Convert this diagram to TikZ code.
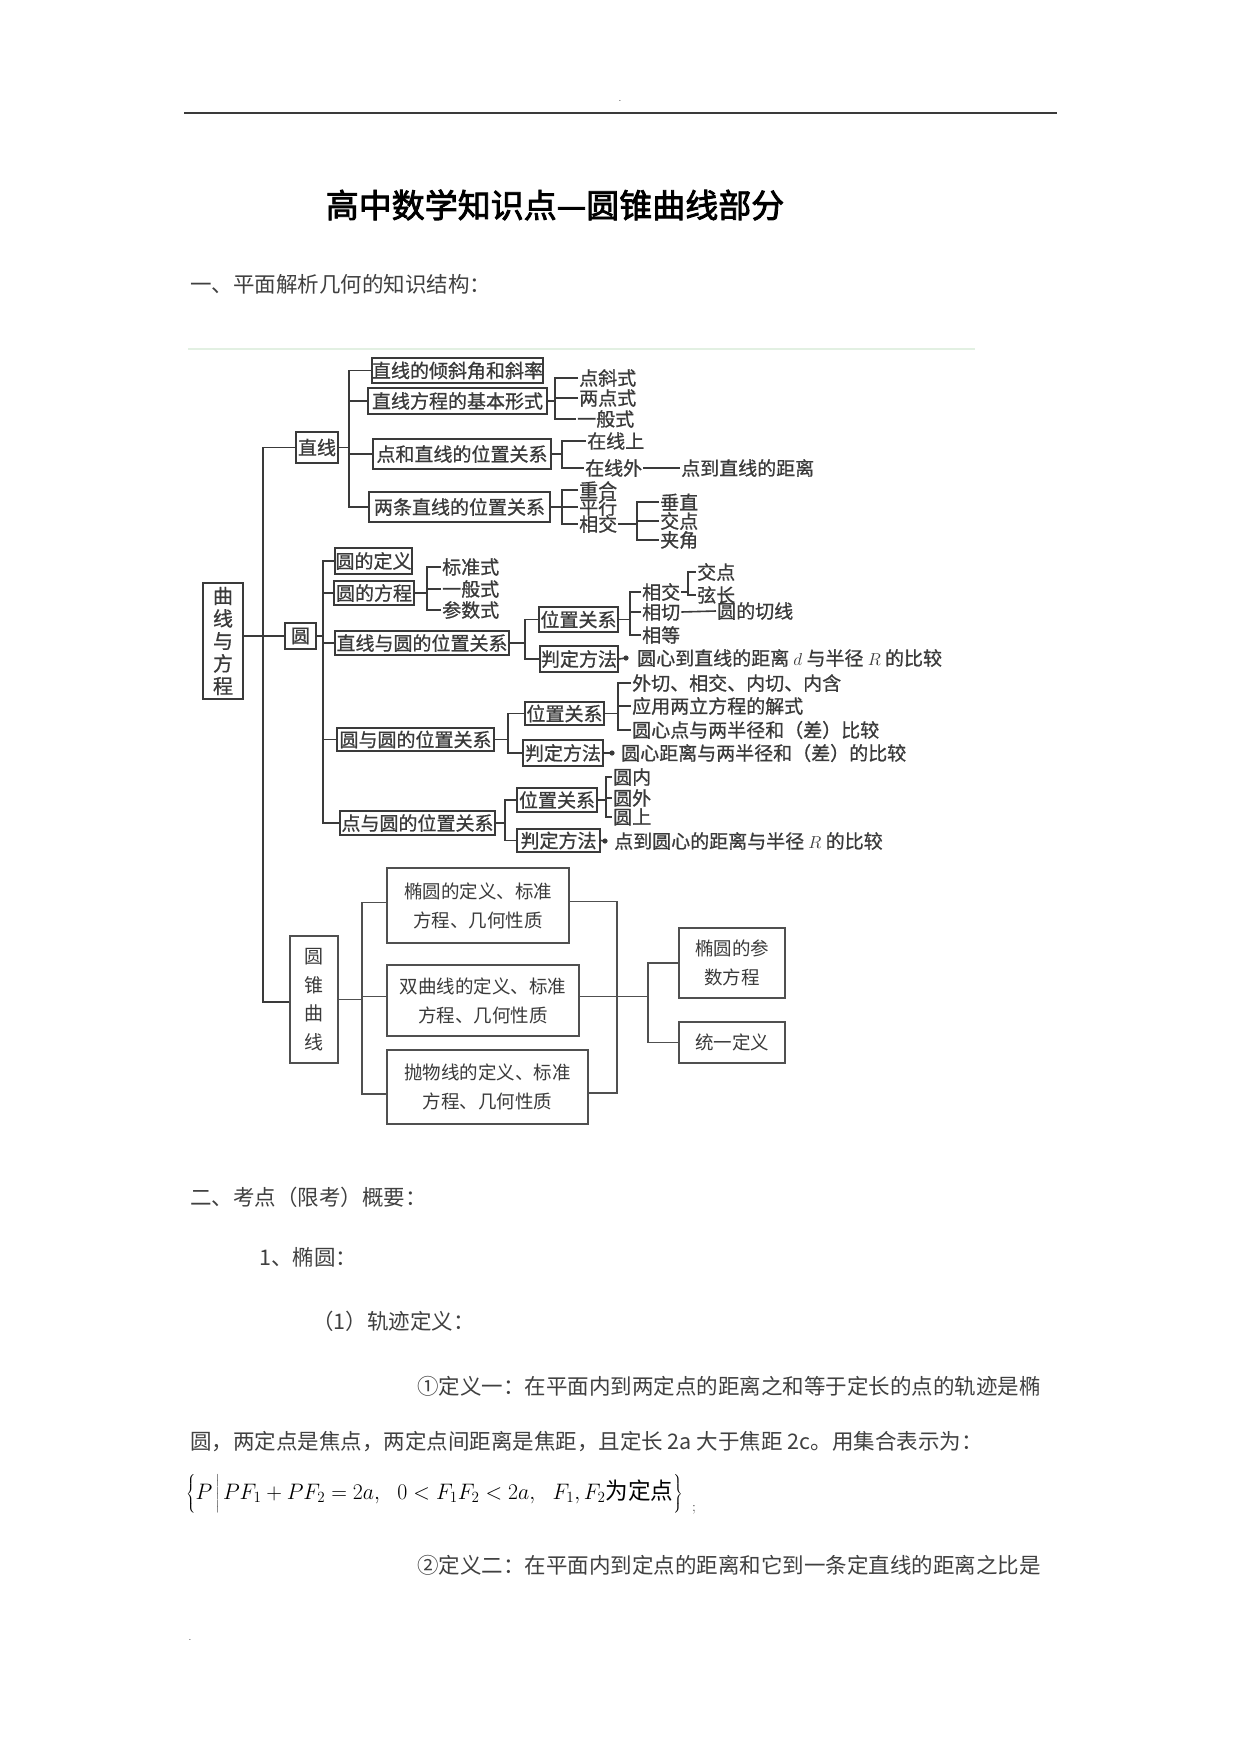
\documentclass[tikz,border=0pt]{standalone}
\usepackage{fontspec}
\newfontfamily\cjk{Noto Sans CJK SC}
\newfontfamily\cjkd[FakeBold=0.8]{Noto Sans CJK SC}
\newfontfamily\cjkb[FakeBold=2.5]{Noto Sans CJK SC}
\usetikzlibrary{calc}
\definecolor{lncol}{HTML}{3A3A3A}
\definecolor{boxcol}{HTML}{505050}
\definecolor{bodytxt}{HTML}{404040}
\definecolor{faintgreen}{HTML}{E2F0E2}
\begin{document}
\begin{tikzpicture}[x=1pt,y=-1pt,
  conn/.style={draw=lncol, line width=1.6},
  sbox/.style={draw=lncol, line width=2, inner sep=0, font=\cjkd\fontsize{19}{19}\selectfont, text=lncol},
  vbox/.style={draw=lncol, line width=1.8, inner sep=0, align=center, text=lncol},
  ftxt/.style={anchor=west, inner xsep=1, inner ysep=0, font=\cjkd\fontsize{19}{19}\selectfont, text=lncol},
  bbox/.style={draw=boxcol, line width=1.6, inner sep=0, align=center, text=lncol, font=\cjk\fontsize{18.5}{29}\selectfont},
  body/.style={anchor=west, inner sep=0, font=\cjk\fontsize{21.5}{22}\selectfont, text=bodytxt},
  dotmark/.style={fill=lncol}
]
\useasboundingbox (0,0) rectangle (1240,1753);
\fill[white] (0,0) rectangle (1240,1753);

% header
\node[font=\fontsize{10}{10}\selectfont, text=lncol] (hdot) at (620,101) {.};
\coordinate (hl) at (184,113);
\coordinate (hr) at (1057,113);
\draw[line width=2, draw=lncol] (hl) -- (hr);

% title
\node[font=\cjkb\fontsize{33}{33}\selectfont, text=black] (title) at (555,205) {高中数学知识点—圆锥曲线部分};
\node[body] (sec1) at (190,284) {一、平面解析几何的知识结构：};

% faint line on top of the diagram
\coordinate (gl) at (188,349);
\coordinate (gr) at (975,349);
\draw[faintgreen, line width=1.2] (gl) -- (gr);

% ---------------- boxes ----------------
\node[sbox, minimum width=171, minimum height=25] (b_qxj) at (457.5,370.5) {直线的倾斜角和斜率};
\node[sbox, minimum width=179, minimum height=26] (b_fc) at (457.5,401) {直线方程的基本形式};
\node[sbox, minimum width=42, minimum height=31] (b_zx) at (317,447.5) {直线};
\node[sbox, minimum width=178, minimum height=30] (b_dzx) at (462,454) {点和直线的位置关系};
\node[sbox, minimum width=181, minimum height=30] (b_lzx) at (459.5,507) {两条直线的位置关系};

\node[vbox, minimum width=40, minimum height=116, font=\cjkd\fontsize{20}{22.5}\selectfont] (b_main) at (223,641) {曲\\线\\与\\方\\程};
\node[sbox, minimum width=31, minimum height=26] (b_yuan) at (300.5,636) {圆};
\node[sbox, minimum width=77, minimum height=26] (b_ydy) at (373.5,561) {圆的定义};
\node[sbox, minimum width=80, minimum height=24] (b_yfc) at (374,593) {圆的方程};
\node[sbox, minimum width=174, minimum height=24] (b_zxy) at (422,643) {直线与圆的位置关系};
\node[sbox, minimum width=79, minimum height=25] (b_wz1) at (578.5,619.5) {位置关系};
\node[sbox, minimum width=78, minimum height=26] (b_pd1) at (579,659) {判定方法};
\node[sbox, minimum width=157, minimum height=23] (b_yy) at (415.5,739.5) {圆与圆的位置关系};
\node[sbox, minimum width=79, minimum height=23] (b_wz2) at (564.5,713.5) {位置关系};
\node[sbox, minimum width=80, minimum height=26] (b_pd2) at (563,753) {判定方法};
\node[sbox, minimum width=155, minimum height=24] (b_dy) at (417.5,823) {点与圆的位置关系};
\node[sbox, minimum width=80, minimum height=24] (b_wz3) at (557,800) {位置关系};
\node[sbox, minimum width=83, minimum height=23] (b_pd3) at (558.5,840.5) {判定方法};

\node[vbox, line width=1.6, draw=boxcol, minimum width=48, minimum height=127, font=\cjk\fontsize{19}{28.5}\selectfont] (b_yzqx) at (314,999.5) {圆\\锥\\曲\\线};
\node[bbox, minimum width=182, minimum height=75] (b_ty) at (478,905.5) {椭圆的定义、标准\\方程、几何性质};
\node[bbox, minimum width=192, minimum height=71] (b_sqx) at (483,1000.5) {双曲线的定义、标准\\方程、几何性质};
\node[bbox, minimum width=201, minimum height=74] (b_pwx) at (487.5,1087) {抛物线的定义、标准\\方程、几何性质};
\node[bbox, minimum width=106, minimum height=70] (b_tcs) at (732,963) {椭圆的参\\数方程};
\node[bbox, minimum width=106, minimum height=41] (b_tyd) at (732,1042.5) {统一定义};

% ---------------- free texts ----------------
\node[ftxt] (t_dxs) at (578,378) {点斜式};
\node[ftxt] (t_ldx) at (578,398) {两点式};
\node[ftxt] (t_ybs) at (576,419) {一般式};
\node[ftxt] (t_zxs) at (586,441) {在线上};
\node[ftxt] (t_zxw) at (584,468) {在线外};
\node[ftxt] (t_ddz) at (680,468) {点到直线的距离};
\node[ftxt] (t_ch) at (578,490) {重合};
\node[ftxt] (t_px) at (578,507) {平行};
\node[ftxt] (t_xj) at (578,524) {相交};
\node[ftxt] (t_cz) at (659,502) {垂直};
\node[ftxt] (t_jd) at (659,521) {交点};
\node[ftxt] (t_jj) at (659,540) {夹角};

\node[ftxt] (t_bzs) at (441,567) {标准式};
\node[ftxt] (t_yb2) at (441,589) {一般式};
\node[ftxt] (t_css) at (441,610) {参数式};
\node[ftxt] (t_xj2) at (641,592) {相交};
\node[ftxt] (t_xq) at (641,612) {相切};
\node[ftxt] (t_xd) at (641,635) {相等};
\node[ftxt] (t_jd2) at (696,572) {交点};
\node[ftxt] (t_xc) at (696,595) {弦长};
\node[ftxt] (t_yqx) at (716,611) {圆的切线};
\node[ftxt] (t_pd1) at (636,658) {圆心到直线的距离 $d$ 与半径 $R$ 的比较};
\node[ftxt] (t_wq) at (631,683) {外切、相交、内切、内含};
\node[ftxt] (t_yy) at (631,706) {应用两立方程的解式};
\node[ftxt] (t_yx) at (631,730) {圆心点与两半径和（差）比较};
\node[ftxt] (t_pd2) at (620,753) {圆心距离与两半径和（差）的比较};
\node[ftxt] (t_yn) at (612,777) {圆内};
\node[ftxt] (t_yw) at (612,798) {圆外};
\node[ftxt] (t_ys) at (612,817) {圆上};
\node[ftxt] (t_pd3) at (613,841) {点到圆心的距离与半径 $R$ 的比较};

% ---------------- junction coordinates ----------------
\coordinate (T) at (263,1002);
\coordinate (j1) at (349,507);
\coordinate (j2) at (323,823);
\coordinate (k1) at (555,419);
\coordinate (k2) at (562,468);
\coordinate (k3) at (562,524);
\coordinate (k4) at (637,540);
\coordinate (k5) at (427,610);
\coordinate (k6) at (525,659);
\coordinate (k7) at (630,635);
\coordinate (k8) at (688,595);
\coordinate (k9) at (508,753);
\coordinate (k10) at (618,730);
\coordinate (k11) at (505,840.5);
\coordinate (k12) at (606,817);
\coordinate (k13) at (362,1094);
\coordinate (k14) at (617,1093);
\coordinate (k15) at (648,1042.5);

% ---------------- connectors ----------------
% main trunk
\draw[conn] (b_zx.west) -| (T) -- (b_yzqx.west |- T);
\draw[conn] (b_main.east |- b_yuan.west) -- (b_yuan.west);

% straight line group
\draw[conn] (b_qxj.west) -| (j1) -- (b_lzx.west);
\draw[conn] (b_fc.west) -- (b_fc.west -| j1);
\draw[conn] (b_dzx.west) -- (b_dzx.west -| j1);
\draw[conn] (b_zx.east) -- (b_zx.east -| j1);

\draw[conn] (b_fc.east) -- (b_fc.east -| k1);
\draw[conn] (t_dxs.west) -| (k1) -- (t_ybs.west);
\draw[conn] (t_ldx.west) -- (t_ldx.west -| k1);

\draw[conn] (b_dzx.east) -- (b_dzx.east -| k2);
\draw[conn] (t_zxs.west) -| (k2) -- (t_zxw.west);
\draw[conn] (t_zxw.east) -- (t_ddz.west);

\draw[conn] (b_lzx.east) -- (b_lzx.east -| k3);
\draw[conn] (t_ch.west) -| (k3) -- (t_xj.west);
\draw[conn] (t_px.west) -- (t_px.west -| k3);

\draw[conn] (t_xj.east) -- (t_xj.east -| k4);
\draw[conn] (t_cz.west) -| (k4) -- (t_jj.west);
\draw[conn] (t_jd.west) -- (t_jd.west -| k4);

% circle group
\draw[conn] (b_ydy.west) -| (j2) -- (b_dy.west);
\draw[conn] (b_yfc.west) -- (b_yfc.west -| j2);
\draw[conn] (b_zxy.west) -- (b_zxy.west -| j2);
\draw[conn] (b_yy.west) -- (b_yy.west -| j2);
\draw[conn] (b_yuan.east) -- (b_yuan.east -| j2);

\draw[conn] (b_yfc.east) -- (b_yfc.east -| k5);
\draw[conn] (t_bzs.west) -| (k5) -- (t_css.west);
\draw[conn] (t_yb2.west) -- (t_yb2.west -| k5);

\draw[conn] (b_zxy.east) -- (b_zxy.east -| k6);
\draw[conn] (b_wz1.west) -| (k6) -- (b_pd1.west);

\draw[conn] (b_wz1.east) -- (b_wz1.east -| k7);
\draw[conn] (t_xj2.west) -| (k7) -- (t_xd.west);
\draw[conn] (t_xq.west) -- (t_xq.west -| k7);
\draw[conn] (t_xj2.east) -- (t_xj2.east -| k8);
\draw[conn] (t_jd2.west) -| (k8) -- (t_xc.west);
\draw[conn] (t_xq.east) -- (t_yqx.west);

\draw[conn] (b_pd1.east) -- ([xshift=-10]t_pd1.west);
\fill[dotmark] ([xshift=-10]t_pd1.west) circle (2.6);

\draw[conn] (b_yy.east) -- (b_yy.east -| k9);
\draw[conn] (b_wz2.west) -| (k9) -- (b_pd2.west);
\draw[conn] (b_wz2.east) -- (b_wz2.east -| k10);
\draw[conn] (t_wq.west) -| (k10) -- (t_yx.west);
\draw[conn] (t_yy.west) -- (t_yy.west -| k10);
\draw[conn] (b_pd2.east) -- ([xshift=-8]t_pd2.west);
\fill[dotmark] ([xshift=-8]t_pd2.west) circle (2.6);

\draw[conn] (b_dy.east) -- (b_dy.east -| k11);
\draw[conn] (b_wz3.west) -| (k11) -- (b_pd3.west);
\draw[conn] (b_wz3.east) -- (b_wz3.east -| k12);
\draw[conn] (t_yn.west) -| (k12) -- (t_ys.west);
\draw[conn] (t_yw.west) -- (t_yw.west -| k12);
\draw[conn] (b_pd3.east) -- ([xshift=-8]t_pd3.west);
\fill[dotmark] ([xshift=-8]t_pd3.west) circle (2.6);

% conic group
\draw[conn, draw=boxcol] ([yshift=3]b_ty.west) -| (k13) -- (b_pwx.west |- k13);
\draw[conn, draw=boxcol] (b_yzqx.east) -- (b_yzqx.east -| k13);
\draw[conn, draw=boxcol] ([yshift=4]b_sqx.west) -- ([yshift=4]b_sqx.west -| k13);
\draw[conn, draw=boxcol] ([yshift=4]b_ty.east) -| (k14) -- (b_pwx.east |- k14);
\draw[conn, draw=boxcol] ([yshift=4]b_sqx.east) -- ([yshift=4]b_sqx.east -| k15);
\draw[conn, draw=boxcol] (b_tcs.west) -| (k15) -- (b_tyd.west);

% ---------------- body text ----------------
\node[body] (sec2) at (190,1197) {二、考点（限考）概要：};
\node[body] (sec21) at (259,1257) {1、椭圆：};
\node[body] (sec211) at (312,1321) {（1）轨迹定义：};
\node[body] (def1) at (417,1386) {①定义一：在平面内到两定点的距离之和等于定长的点的轨迹是椭};
\node[body] (def1b) at (190,1442) {圆，两定点是焦点，两定点间距离是焦距，且定长 2a 大于焦距 2c。用集合表示为：};
\node[anchor=west, inner sep=0, text=black] (formula) at (186,1494)
  {\fontsize{21.5}{22}\selectfont\scalebox{1.05}[1.08]{$\left\{\vrule width 0pt height 23pt depth 13pt P\,\middle|\,PF_1+PF_2=2a,\ \ 0<F_1F_2<2a,\ \ F_1,F_2\mbox{\cjk 为定点}\right\}$}};
\node[font=\fontsize{14}{14}\selectfont, text=bodytxt] (semi) at (694,1510) {;};
\node[body] (def2) at (417,1565) {②定义二：在平面内到定点的距离和它到一条定直线的距离之比是};
\node[font=\fontsize{10}{10}\selectfont, text=lncol] (fdot) at (190,1640) {.};
\end{tikzpicture}
\end{document}
